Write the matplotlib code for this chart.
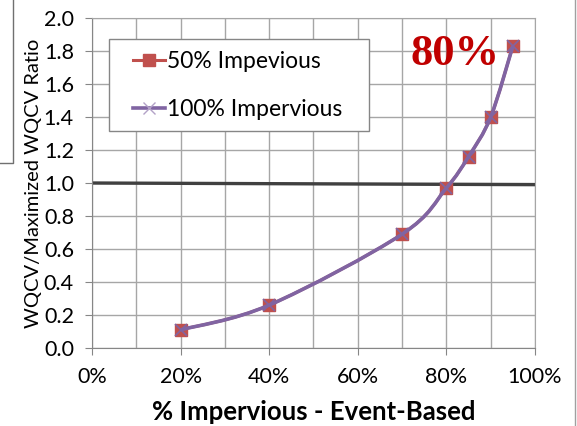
import matplotlib
matplotlib.use("Agg")
import matplotlib.pyplot as plt
from matplotlib.path import Path
from matplotlib.patches import PathPatch, Rectangle
from matplotlib.lines import Line2D
from matplotlib.ticker import MultipleLocator, PercentFormatter

plt.rcParams['font.family'] = ['Lato', 'DejaVu Sans']

# percent impervious (event based) and the WQCV ratio
impervious = [20, 40, 70, 80, 85, 90, 95]
ratio_50 = [0.11, 0.26, 0.69, 0.97, 1.16, 1.40, 1.83]
ratio_100 = [0.11, 0.26, 0.69, 0.97, 1.16, 1.40, 1.83]
ref_x = [0, 100]
ref_y = [1.0, 0.99]

red = "#c0504d"
purple = "#8064a2"


def smooth_path(xs, ys, sx=100.0, sy=2.0):
    # excel-like smoothed line: bezier segments with catmull-rom handles
    pts = [(x / sx, y / sy) for x, y in zip(xs, ys)]
    n = len(pts)
    verts = [pts[0]]
    codes = [Path.MOVETO]
    for i in range(n - 1):
        p0 = pts[i - 1] if i > 0 else pts[i]
        p1 = pts[i]
        p2 = pts[i + 1]
        p3 = pts[i + 2] if i + 2 < n else pts[i + 1]
        c1 = (p1[0] + (p2[0] - p0[0]) / 6, p1[1] + (p2[1] - p0[1]) / 6)
        c2 = (p2[0] - (p3[0] - p1[0]) / 6, p2[1] - (p3[1] - p1[1]) / 6)
        verts += [c1, c2, p2]
        codes += [Path.CURVE4] * 3
    verts = [(x * sx, y * sy) for x, y in verts]
    return Path(verts, codes)


fig = plt.figure(figsize=(5.77, 4.26), dpi=100)
ax = fig.add_axes([0.1594, 0.1831, 0.9272 - 0.1594, 0.9577 - 0.1831])

ax.plot(ref_x, ref_y, color="#404040", lw=2.4, zorder=2)

ax.add_patch(PathPatch(smooth_path(impervious, ratio_50), fill=False,
                       edgecolor=red, lw=2.2, zorder=3))
ax.plot(impervious, ratio_50, ls='none', marker='s', ms=9, color=red,
        zorder=4)
ax.add_patch(PathPatch(smooth_path(impervious, ratio_100), fill=False,
                       edgecolor=purple, lw=2.6, zorder=5))
ax.plot(impervious, ratio_100, ls='none', marker='x', ms=9, mew=1.2,
        color=purple, zorder=6)

ax.set_xlim(0, 100)
ax.set_ylim(0, 2.0)
ax.xaxis.set_major_locator(MultipleLocator(20))
ax.xaxis.set_minor_locator(MultipleLocator(10))
ax.yaxis.set_major_locator(MultipleLocator(0.2))
ax.xaxis.set_major_formatter(PercentFormatter(decimals=0))
ax.yaxis.set_major_formatter(lambda v, p: "%.1f" % v)
ax.grid(which='both', color="#a6a6a6", lw=1.0, zorder=0)
ax.set_axisbelow(True)
for s in ['top', 'right']:
    ax.spines[s].set_color("#a6a6a6")
for s in ['left', 'bottom']:
    ax.spines[s].set_color("#868686")
ax.tick_params(which='both', length=5, color="#868686", labelsize=15.5)
ax.tick_params(axis='x', which='minor', length=0)
ax.tick_params(axis='x', pad=9)
ax.tick_params(axis='y', pad=8)

ax.set_ylabel("WQCV/Maximized WQCV Ratio", fontsize=14.5, labelpad=1)
ax.set_xlabel("% Impervious - Event-Based", fontsize=18.5, fontweight='bold',
              labelpad=9)

# legend box drawn separately so its padding matches
ax.add_patch(Rectangle((0.0384, 0.6576), 0.6253 - 0.0384, 0.9364 - 0.6576,
                       transform=ax.transAxes, facecolor='white',
                       edgecolor="#868686", lw=1.0, zorder=7))
handles = [Line2D([], [], color=red, lw=2.2, marker='s', ms=8),
           Line2D([], [], color=purple, lw=2.6, marker='x', ms=9, mew=1.0,
                  markeredgecolor="#b3a2c7")]
leg = ax.legend(handles, ["50% Impevious", "100% Impervious"],
                loc='center left', bbox_to_anchor=(0.0926, 0.795),
                fontsize=16.5, frameon=False, borderpad=0, borderaxespad=0,
                labelspacing=1.2, handlelength=1.4, handletextpad=0.1)
leg.set_zorder(8)

ax.text(81.9, 1.715, "80%", ha='center', va='baseline',
        fontsize=32, fontweight='bold', color="#c00000",
        family='Liberation Serif', zorder=9)

# slide frame remnants
fig.add_artist(Line2D([575 / 577, 575 / 577], [0, 1], color="#a0a0a0", lw=1.0))
fig.add_artist(Line2D([13 / 577, 13 / 577, 0], [1, 1 - 163 / 426, 1 - 163 / 426],
                      color="#707070", lw=1.0))

fig.savefig("out.png", dpi=100)
